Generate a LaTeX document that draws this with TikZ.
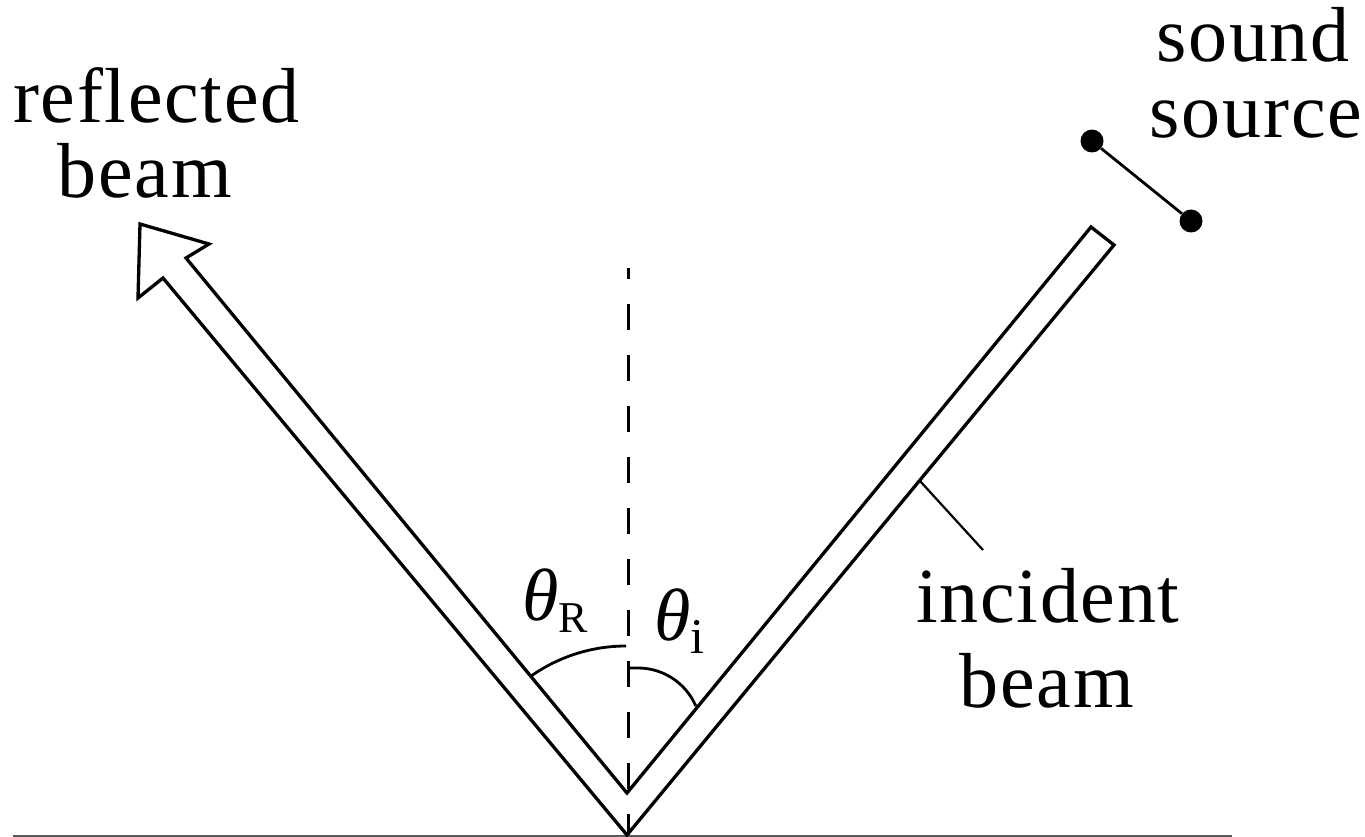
\documentclass[tikz,border=0pt]{standalone}
\usepackage{fontspec}
\setmainfont[LetterSpace=2.2]{Liberation Serif}
\begin{document}
\begin{tikzpicture}[x=1pt,y=-1pt,
  beam/.style={line width=3.3pt, line join=miter},
  thin line/.style={line width=2.8pt},
  lbl/.style={inner sep=0pt, anchor=base, font=\fontsize{78}{78}\selectfont},
  anglbl/.style={inner sep=0pt, anchor=base west, font=\fontsize{74}{74}\selectfont},
  dot/.style={circle, fill=black, inner sep=0pt, minimum size=23pt}]
\useasboundingbox (0,0) rectangle (1365,837);

% ground
\coordinate (G1) at (13,836);
\coordinate (G2) at (1232,836);
\draw[line width=1.5pt, black!65] (G1) -- (G2);

% beam outline
\coordinate (O) at (627,835);
\coordinate (I) at (627,793);
\coordinate (R2) at (1114,245);
\coordinate (R1) at (1091,227);
\coordinate (NR) at (186,258);
\coordinate (BR) at (209,244);
\coordinate (T) at (140,224);
\coordinate (BL) at (138,298);
\coordinate (NL) at (163,278);
\draw[beam] (O) -- (R2) -- (R1) -- (I) -- (NR) -- (BR) -- (T) -- (BL) -- (NL) -- cycle;

% normal
\coordinate (D1) at (628,268);
\coordinate (D2) at (628,835);
\draw[line width=3pt, dash pattern=on 26pt off 25pt, dash phase=15pt] (D1) -- (D2);

% angle arcs
\coordinate (AR) at (626,646);
\draw[thin line] (AR) arc[start angle=-90, end angle=-125, radius=165];
\coordinate (AI) at (627,668);
\coordinate (AI2) at (638,668);
\draw[thin line] (AI) -- (AI2) arc[start angle=-90, end angle=-23.3, radius=63];

% sound source
\node[dot] (s1) at (1092,141) {};
\node[dot] (s2) at (1191,221) {};
\draw[line width=2.8pt] (s1) -- (s2);

% leader
\coordinate (L1) at (920,481);
\coordinate (L2) at (983,550);
\draw[line width=2.2pt] (L1) -- (L2);

% labels
\node[lbl] (refl1) at (156.5,123) {reflected};
\node[lbl] (refl2) at (145,198) {beam};
\node[lbl] (snd1) at (1253,62) {sound};
\node[lbl] (snd2) at (1256,138) {source};
\node[lbl] (inc1) at (1048,622) {incident};
\node[lbl] (inc2) at (1047,707) {beam};

\node[anglbl] (thR) at (522,620) {{\itshape θ}\raisebox{-12pt}{\fontsize{44}{44}\selectfont R}};
\node[anglbl] (thI) at (654,640) {{\itshape θ}\raisebox{-13pt}{\fontsize{50}{50}\selectfont i}};
\end{tikzpicture}
\end{document}
